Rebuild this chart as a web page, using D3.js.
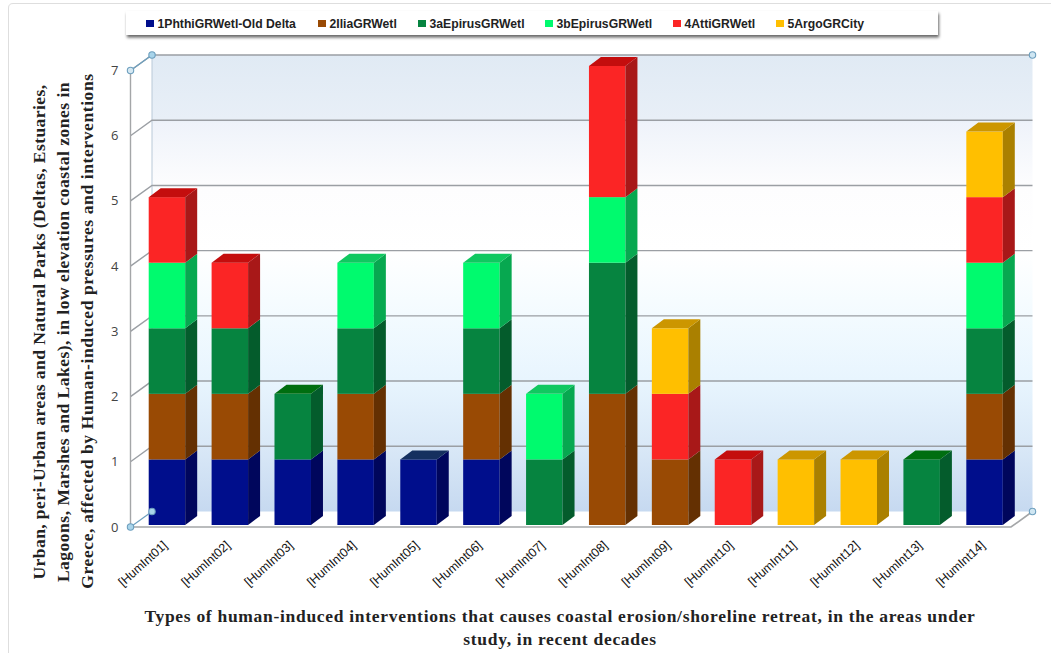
<!DOCTYPE html>
<html>
<head>
<meta charset="utf-8">
<script src="https://cdn.jsdelivr.net/npm/d3@7"></script>
<style>
html,body{margin:0;padding:0;background:#fff;}
svg{display:block;}
</style>
</head>
<body>
<svg id="chart" width="1051" height="653"></svg>
<script>
// Intervention categories along the horizontal axis
const categories = ["[HumInt01]","[HumInt02]","[HumInt03]","[HumInt04]","[HumInt05]","[HumInt06]","[HumInt07]","[HumInt08]","[HumInt09]","[HumInt10]","[HumInt11]","[HumInt12]","[HumInt13]","[HumInt14]"];

// Number of interventions per study area, stacked in this order
const seriesNames = ["1PhthiGRWetl-Old Delta","2IliaGRWetl","3aEpirusGRWetl","3bEpirusGRWetl","4AttiGRWetl","5ArgoGRCity"];
const phthi  = [1,1,1,1,1,1,0,0,0,0,0,0,0,1];
const ilia   = [1,1,0,1,0,1,0,2,1,0,0,0,0,1];
const epirusA= [1,1,1,1,0,1,1,2,0,0,0,0,1,1];
const epirusB= [1,0,0,1,0,1,1,1,0,0,0,0,0,1];
const atti   = [1,1,0,0,0,0,0,2,1,1,0,0,0,1];
const argo   = [0,0,0,0,0,0,0,0,1,0,1,1,0,1];
const seriesValues = [phthi,ilia,epirusA,epirusB,atti,argo];

const yTicks = [0,1,2,3,4,5,6,7];
const yTitleLines = ["Urban, peri-Urban areas and Natural Parks (Deltas, Estuaries,","Lagoons, Marshes and Lakes), in low elevation coastal zones in","Greece, affected by Human-induced pressures and interventions"];
const xTitleLines = ["Types of human-induced interventions that causes coastal erosion/shoreline retreat, in the areas under","study, in recent decades"];

// Face, side and top shades for each series
const frontColors = ["#000e8c","#994a04","#068440","#00fa6e","#fb2525","#ffbf00"];
const sideColors  = ["#00065c","#643002","#045c2c","#07a850","#a81818","#aa8000"];
const topColors   = ["#15305f","#7a3d05","#006e10","#10c860","#c40d0d","#cc9600"];

const svg = d3.select("#chart");
const defs = svg.append("defs");

// Oblique projection of the plot box
const depthX = 21.5, depthY = -15.5;       // front-to-back shift of the walls
const barDepthX = 12, barDepthY = -9;      // front-to-back shift of each bar
const y = d3.scaleLinear().domain([0,7]).range([527,70.5]);
const yBar = d3.scaleLinear().domain([0,7]).range([525,66]);
const x = d3.scaleBand().domain(categories).range([135.5,1016]).paddingInner(0.42).paddingOuter(0.21);
const left = 130.5, right = 1011;

const wall = defs.append("linearGradient").attr("id","wall").attr("x1",0).attr("x2",0).attr("y1",0).attr("y2",1);
[[0,"#e0eaf4"],[0.14,"#e8eff7"],[0.15,"#eff3fa"],[0.29,"#fdfdfe"],[0.43,"#ffffff"],[0.57,"#f3fbff"],[0.71,"#e8f5fe"],[0.86,"#d9e8f7"],[1,"#c6d9f0"]]
  .forEach(([o,c]) => wall.append("stop").attr("offset",o).attr("stop-color",c));

const soft = defs.append("filter").attr("id","shadow").attr("x","-2%").attr("y","-30%").attr("width","104%").attr("height","170%");
soft.append("feDropShadow").attr("dx",1).attr("dy",2.5).attr("stdDeviation",1.6).attr("flood-color","#000").attr("flood-opacity",0.6);

// Outer frame
svg.append("path").attr("d","M8.5,653V8Q8.5,3.5,13,3.5H1051").attr("fill","none").attr("stroke","#dedede").attr("stroke-width",1);

// Back wall
svg.append("rect").attr("x",left+depthX).attr("y",y(7)+depthY).attr("width",right-left).attr("height",y(0)-y(7))
  .attr("fill","url(#wall)");
svg.append("line").attr("x1",left+depthX).attr("x2",left+depthX).attr("y1",y(7)+depthY).attr("y2",y(0)+depthY).attr("stroke","#b9c9d8");

// Gridlines on the back wall and their slanted links to the axis
const grid = svg.append("g").attr("stroke","#9b9fa4").attr("fill","none");
yTicks.filter(t => t > 0).forEach(t => {
  grid.append("path").attr("stroke-width",1.4)
    .attr("d",`M${left},${y(t)}L${left+depthX},${y(t)+depthY}H${right+depthX}`);
});

// Axis lines
svg.append("line").attr("x1",left).attr("x2",left).attr("y1",y(7)).attr("y2",y(0)).attr("stroke","#a4a6a8").attr("stroke-width",1.4);
svg.append("path").attr("d",`M${left},${y(0)}H${right}L${right+depthX},${y(0)+depthY}`).attr("fill","none").attr("stroke","#a4a6a8").attr("stroke-width",1.6);

// Stacked bars drawn as oblique prisms
const stack = d3.stack().keys(d3.range(seriesValues.length)).value((row,k) => row[k]);
const rows = categories.map((c,i) => seriesValues.map(s => s[i]));
const layers = stack(rows);
const bars = svg.append("g");
categories.forEach((c,i) => {
  const bx = x(c), bw = x.bandwidth();
  const g = bars.append("g");
  const active = layers.filter(l => l[i][1] > l[i][0]);
  active.forEach((l,n) => {
    const k = l.key;
    const yTop = yBar(l[i][1]), yBot = yBar(l[i][0]);
    g.append("rect").attr("x",bx).attr("y",yTop).attr("width",bw).attr("height",yBot-yTop).attr("fill",frontColors[k]);
    g.append("path").attr("fill",sideColors[k])
      .attr("d",`M${bx+bw},${yTop}l${barDepthX},${barDepthY}V${yBot+barDepthY}l${-barDepthX},${-barDepthY}Z`);
    if (n === active.length-1) {
      g.append("path").attr("fill",topColors[k])
        .attr("d",`M${bx},${yTop}l${barDepthX},${barDepthY}h${bw}l${-barDepthX},${-barDepthY}Z`);
    }
  });
});

// Value axis labels
svg.append("g").selectAll("text").data(yTicks).join("text")
  .attr("x",118.5).attr("y",d => y(d)+4.5).attr("text-anchor","end")
  .attr("font-family","'Open Sans',sans-serif").attr("font-size",13).attr("fill","#444")
  .text(d => d);

// Category labels, slanted
svg.append("g").selectAll("text").data(categories).join("text")
  .attr("transform",c => `translate(${x(c)+x.bandwidth()/2-1},544) rotate(-42)`)
  .attr("text-anchor","end").attr("dominant-baseline","middle")
  .attr("font-family","'Liberation Sans',sans-serif").attr("font-size",12.4).attr("fill","#111")
  .text(c => c);

// Resize handles on the plot corners
const handles = [[left,y(7),"#d5e8f2"],[left+depthX,y(7)+depthY,"#a8d4ea"],[right+depthX,y(7)+depthY,"#cfe6f2"],[left,y(0),"#a8d4ea"],[left+depthX,y(0)+depthY,"#a8d4ea"],[right+depthX,y(0)+depthY,"#cfe6f2"]];
svg.append("line").attr("x1",left).attr("y1",y(7)).attr("x2",left+depthX).attr("y2",y(7)+depthY).attr("stroke","#6d9fbe").attr("stroke-width",1.2);
svg.append("line").attr("x1",left).attr("y1",y(0)).attr("x2",left+depthX).attr("y2",y(0)+depthY).attr("stroke","#6d9fbe").attr("stroke-width",1.2);
svg.append("g").selectAll("circle").data(handles).join("circle")
  .attr("cx",d=>d[0]).attr("cy",d=>d[1]).attr("r",3.2).attr("fill",d=>d[2]).attr("stroke","#6d9fbe").attr("stroke-width",1.1);

// Legend strip
svg.append("rect").attr("x",126).attr("y",11).attr("width",812).attr("height",24).attr("fill","#fff").attr("filter","url(#shadow)");
const legendX = [146,318,418,545,673,776];
const legend = svg.append("g");
seriesNames.forEach((name,i) => {
  legend.append("rect").attr("x",legendX[i]).attr("y",20).attr("width",8).attr("height",7).attr("fill",frontColors[i]);
  legend.append("text").attr("x",legendX[i]+11.5).attr("y",27.8)
    .attr("font-family","'Liberation Sans',sans-serif").attr("font-weight","bold").attr("font-size",12.2).attr("fill","#222")
    .text(name);
});

// Axis titles
const titleFont = "'Liberation Serif',serif";
svg.append("g").selectAll("text").data(yTitleLines).join("text")
  .attr("transform",(d,i) => `translate(${[45,68.5,92.5][i]},${[332,332,331][i]}) rotate(-90)`)
  .attr("text-anchor","middle").attr("font-family",titleFont).attr("font-weight","bold").attr("font-size",17.5)
  .attr("letter-spacing",(d,i) => [0.42,0.5,0.6][i]).attr("fill","#222")
  .text(d => d);
svg.append("g").selectAll("text").data(xTitleLines).join("text")
  .attr("x",560).attr("y",(d,i) => 622+i*23).attr("text-anchor","middle")
  .attr("font-family",titleFont).attr("font-weight","bold").attr("font-size",17.5)
  .attr("letter-spacing",0.7).attr("fill","#222")
  .text(d => d);
</script>
</body>
</html>
